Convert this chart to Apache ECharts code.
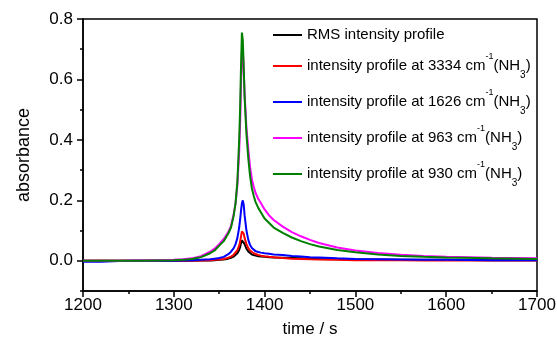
<!DOCTYPE html>
<html>
<head>
<meta charset="utf-8">
<script src="https://cdn.jsdelivr.net/npm/echarts@6/dist/echarts.min.js"></script>
<style>
  html, body { margin: 0; padding: 0; background: #fff; }
  #chart { width: 557px; height: 340px; }
</style>
</head>
<body>
<div id="chart"></div>
<script>
// Time axis (s) shared by all intensity profiles
const timeS = [1200, 1220, 1240, 1260, 1280, 1300, 1310, 1320, 1330, 1340, 1345, 1350, 1355, 1360, 1363, 1366, 1368, 1370, 1372, 1373, 1374, 1375, 1376, 1377, 1378, 1380, 1382, 1384, 1386, 1388, 1390, 1393, 1396, 1400, 1405, 1410, 1420, 1430, 1440, 1450, 1460, 1480, 1500, 1525, 1550, 1575, 1600, 1650, 1700];

// Absorbance profiles
const rmsProfile = [0, 0, 0, 0, 0, 0, 0, 0, 0.001, 0.001, 0.002, 0.003, 0.004, 0.007, 0.010, 0.014, 0.018, 0.025, 0.036, 0.045, 0.058, 0.068, 0.072, 0.065, 0.055, 0.040, 0.031, 0.025, 0.021, 0.019, 0.017, 0.015, 0.014, 0.013, 0.012, 0.011, 0.010, 0.009, 0.008, 0.007, 0.006, 0.005, 0.004, 0.004, 0.003, 0.003, 0.003, 0.002, 0.002];
const nh3At3334 = [0, 0, 0, 0, 0, 0, 0, 0.001, 0.001, 0.002, 0.003, 0.004, 0.006, 0.010, 0.014, 0.020, 0.026, 0.035, 0.050, 0.062, 0.080, 0.097, 0.100, 0.090, 0.075, 0.055, 0.042, 0.034, 0.029, 0.025, 0.022, 0.019, 0.017, 0.015, 0.013, 0.012, 0.009, 0.007, 0.006, 0.005, 0.004, 0.003, 0.002, 0.002, 0.002, 0.001, 0.001, 0.001, 0.001];
const nh3At1626 = [-0.003, -0.003, -0.001, 0, 0, 0, 0.001, 0.002, 0.003, 0.005, 0.007, 0.009, 0.013, 0.022, 0.030, 0.042, 0.055, 0.075, 0.110, 0.135, 0.165, 0.190, 0.200, 0.185, 0.150, 0.100, 0.070, 0.052, 0.042, 0.036, 0.032, 0.029, 0.027, 0.025, 0.023, 0.021, 0.019, 0.016, 0.014, 0.012, 0.011, 0.008, 0.006, 0.005, 0.004, 0.003, 0.003, 0.002, 0.002];
const nh3At963 = [0, 0, 0, 0.001, 0.002, 0.003, 0.005, 0.008, 0.015, 0.030, 0.040, 0.055, 0.072, 0.095, 0.115, 0.155, 0.190, 0.250, 0.360, 0.450, 0.580, 0.690, 0.700, 0.630, 0.550, 0.440, 0.370, 0.310, 0.270, 0.245, 0.225, 0.205, 0.190, 0.170, 0.150, 0.135, 0.113, 0.095, 0.081, 0.069, 0.059, 0.044, 0.034, 0.026, 0.020, 0.016, 0.013, 0.010, 0.008];
const nh3At930 = [0, 0, 0, 0, 0.001, 0.002, 0.003, 0.006, 0.012, 0.025, 0.034, 0.050, 0.065, 0.090, 0.110, 0.150, 0.190, 0.260, 0.400, 0.500, 0.640, 0.755, 0.730, 0.640, 0.540, 0.420, 0.340, 0.280, 0.240, 0.215, 0.195, 0.175, 0.160, 0.140, 0.125, 0.110, 0.092, 0.077, 0.065, 0.055, 0.047, 0.036, 0.028, 0.021, 0.016, 0.013, 0.011, 0.008, 0.006];

// Axis tick positions
const xTicks = [1200, 1300, 1400, 1500, 1600, 1700];
const yMajorTicks = [0, 0.2, 0.4, 0.6, 0.8];
const yMinorTicks = [-0.1, 0.1, 0.3, 0.5, 0.7];

const seriesDefs = [
  { name: 'RMS intensity profile', values: rmsProfile, color: '#000000' },
  { name: 'intensity profile at 3334 cm{sup|-1}(NH{sub|3})', values: nh3At3334, color: '#ff0000' },
  { name: 'intensity profile at 1626 cm{sup|-1}(NH{sub|3})', values: nh3At1626, color: '#0000ff' },
  { name: 'intensity profile at 963 cm{sup|-1}(NH{sub|3})', values: nh3At963, color: '#ff00ff' },
  { name: 'intensity profile at 930 cm{sup|-1}(NH{sub|3})', values: nh3At930, color: '#008000' }
];

const FONT = "'Liberation Sans', Arial, sans-serif";

const chart = echarts.init(document.getElementById('chart'), null, { renderer: 'canvas' });

chart.setOption({
  animation: false,
  backgroundColor: '#ffffff',
  grid: {
    left: 83, right: 20, top: 19, bottom: 49,
    outerBoundsMode: 'none', containLabel: false,
    show: true, borderColor: '#000', borderWidth: 1.5, backgroundColor: 'transparent'
  },
  legend: {
    left: 273, top: 26, orient: 'vertical',
    padding: 0, itemGap: 8, itemWidth: 29, itemHeight: 2,
    icon: 'rect',
    data: seriesDefs.map((s, i) => i === 0
      ? { name: s.name, textStyle: { lineHeight: 18 } }
      : { name: s.name }),
    textStyle: {
      fontFamily: FONT, fontSize: 15, color: '#000', lineHeight: 28,
      rich: {
        sup: { fontFamily: FONT, fontSize: 9, lineHeight: 10, verticalAlign: 'top', color: '#000' },
        sub: { fontFamily: FONT, fontSize: 10, lineHeight: 11, verticalAlign: 'bottom', color: '#000' }
      }
    }
  },
  xAxis: {
    type: 'value', min: 1200, max: 1700, interval: 100,
    name: 'time / s', nameLocation: 'middle', nameGap: 30,
    nameTextStyle: { fontFamily: FONT, fontSize: 17, color: '#000' },
    axisLine: { show: true, onZero: false, lineStyle: { color: '#000', width: 1.5 } },
    axisTick: { show: true, length: 6, lineStyle: { color: '#000', width: 1.5 } },
    minorTick: { show: true, splitNumber: 2, length: 3, lineStyle: { color: '#000', width: 1.5 } },
    axisLabel: { fontFamily: FONT, fontSize: 17, color: '#000', margin: 6, customValues: xTicks, formatter: v => String(v) },
    splitLine: { show: false }
  },
  yAxis: [
    {
      type: 'value', min: -0.1, max: 0.8,
      name: 'absorbance', nameLocation: 'middle', nameGap: 50,
      nameTextStyle: { fontFamily: FONT, fontSize: 18, color: '#000' },
      axisLine: { show: true, onZero: false, lineStyle: { color: '#000', width: 1.5 } },
      axisTick: { show: true, length: 6, customValues: yMajorTicks, lineStyle: { color: '#000', width: 1.5 } },
      axisLabel: {
        fontFamily: FONT, fontSize: 17, color: '#000', margin: 10,
        customValues: yMajorTicks, formatter: v => v.toFixed(1)
      },
      splitLine: { show: false }
    },
    {
      type: 'value', min: -0.1, max: 0.8, position: 'left',
      axisLine: { show: false },
      axisTick: { show: true, length: 3, customValues: yMinorTicks, lineStyle: { color: '#000', width: 1.5 } },
      axisLabel: { show: false },
      splitLine: { show: false }
    }
  ],
  series: seriesDefs.map(s => ({
    name: s.name,
    type: 'line',
    yAxisIndex: 0,
    symbol: 'none',
    color: s.color,
    lineStyle: { color: s.color, width: 2 },
    data: timeS.map((t, i) => [t, s.values[i]])
  }))
});
</script>
</body>
</html>
